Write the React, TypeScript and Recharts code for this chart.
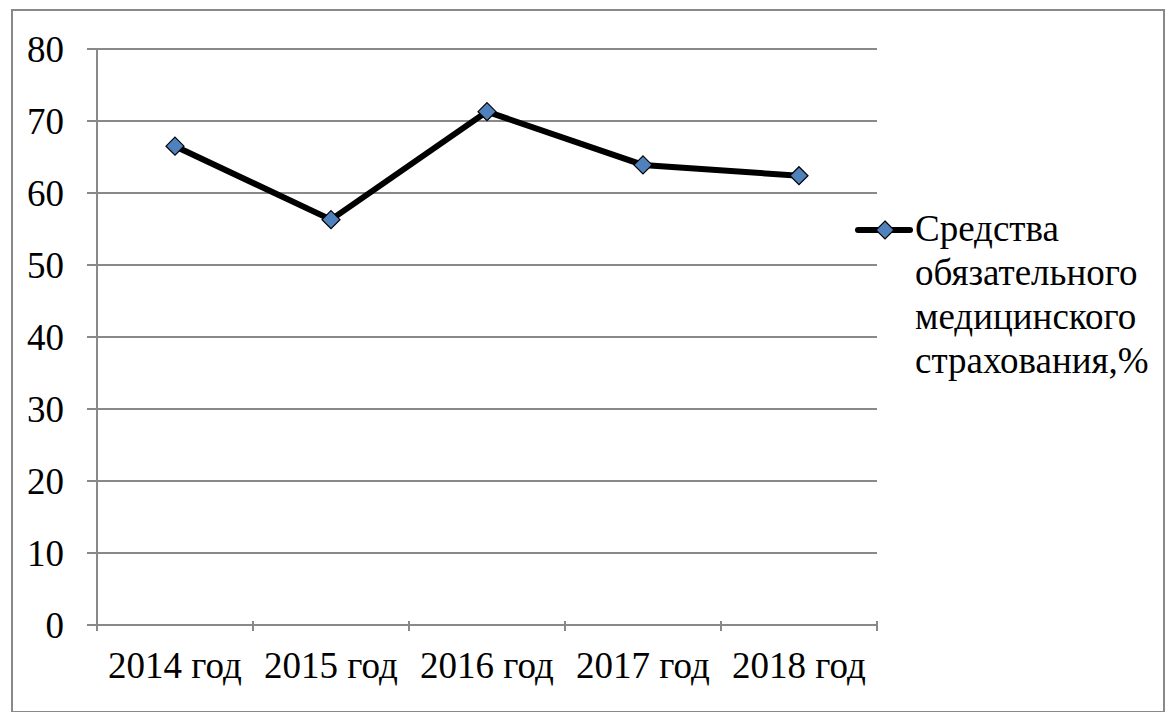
import { LineChart, Line, XAxis, YAxis, CartesianGrid, Legend } from 'recharts';

// годы и доля средств ОМС, %
const years = ['2014 год', '2015 год', '2016 год', '2017 год', '2018 год'];
const omsShare = [66.5, 56.3, 71.3, 63.9, 62.4];
const yTicks = [0, 10, 20, 30, 40, 50, 60, 70, 80];
const seriesName = 'Средства обязательного медицинского страхования,%';
const legendLines = ['Средства', 'обязательного', 'медицинского', 'страхования,%'];

const data = years.map((year, i) => ({ year, value: omsShare[i] }));

const FONT = '"Liberation Serif", "Times New Roman", Tinos, serif';
const FONT_SIZE = 37;
const GRID = '#898989';
const BLUE = '#4F81BD';

const CHART_W = 1150;
const CHART_H = 700;
const MARGIN = { top: 38, right: 286, left: 0, bottom: 26 };
const Y_AXIS_W = 84;
const PLOT_W = CHART_W - MARGIN.right - MARGIN.left - Y_AXIS_W;
const HALF_BAND = PLOT_W / years.length / 2;

// ромбик как в Excel
const Diamond = ({ cx, cy }: any) => {
  if (cx == null || cy == null) return null;
  const s = 9;
  return (
    <polygon
      points={`${cx},${cy - s} ${cx + s},${cy} ${cx},${cy + s} ${cx - s},${cy}`}
      fill={BLUE}
      stroke="#000"
      strokeWidth={1.2}
    />
  );
};

// подпись категории + засечки на границах категорий
const CategoryTick = ({ x, y, payload, index }: any) => {
  const axisY = y - 12;
  const last = index === years.length - 1;
  return (
    <g>
      <line x1={x - HALF_BAND} y1={axisY} x2={x - HALF_BAND} y2={axisY + 10} stroke={GRID} strokeWidth={2} />
      {last && (
        <line x1={x + HALF_BAND} y1={axisY} x2={x + HALF_BAND} y2={axisY + 10} stroke={GRID} strokeWidth={2} />
      )}
      <text x={x} y={y + 45} textAnchor="middle" fill="#000" fontSize={FONT_SIZE} fontFamily={FONT}>
        {payload.value}
      </text>
    </g>
  );
};

const LegendContent = () => (
  <div style={{ display: 'flex', alignItems: 'flex-start', fontFamily: FONT, fontSize: FONT_SIZE, lineHeight: '44px', color: '#000' }}>
    <svg width={60} height={44} style={{ flex: 'none' }}>
      <line x1={3} y1={23} x2={55} y2={23} stroke="#000" strokeWidth={6} strokeLinecap="round" />
      <polygon points="30,14 39,23 30,32 21,23" fill={BLUE} stroke="#000" strokeWidth={1.2} />
    </svg>
    <div>
      {legendLines.map((l) => (
        <div key={l}>{l}</div>
      ))}
    </div>
  </div>
);

export default function App() {
  return (
    <div
      style={{
        position: 'relative',
        left: 3,
        top: 1,
        width: CHART_W,
        height: CHART_H,
        border: `2px solid ${GRID}`,
        background: '#fff',
      }}
    >
      <LineChart width={CHART_W} height={CHART_H} data={data} margin={MARGIN}>
        <CartesianGrid vertical={false} stroke={GRID} strokeWidth={2} />
        <XAxis
          dataKey="year"
          interval={0}
          height={60}
          padding={{ left: HALF_BAND, right: HALF_BAND }}
          axisLine={{ stroke: GRID, strokeWidth: 2 }}
          tickLine={false}
          tick={<CategoryTick />}
        />
        <YAxis
          domain={[0, 80]}
          ticks={yTicks}
          width={Y_AXIS_W}
          tickSize={10}
          tickMargin={23}
          axisLine={{ stroke: GRID, strokeWidth: 2 }}
          tickLine={{ stroke: GRID, strokeWidth: 2 }}
          tick={{ fill: '#000', fontSize: FONT_SIZE, fontFamily: FONT }}
        />
        <Legend
          layout="vertical"
          align="center"
          verticalAlign="middle"
          content={<LegendContent />}
          wrapperStyle={{ left: 842, top: 196, width: 320 }}
        />
        <Line
          type="linear"
          dataKey="value"
          name={seriesName}
          stroke="#000"
          strokeWidth={6}
          dot={<Diamond />}
          activeDot={false}
          isAnimationActive={false}
        />
      </LineChart>
    </div>
  );
}
